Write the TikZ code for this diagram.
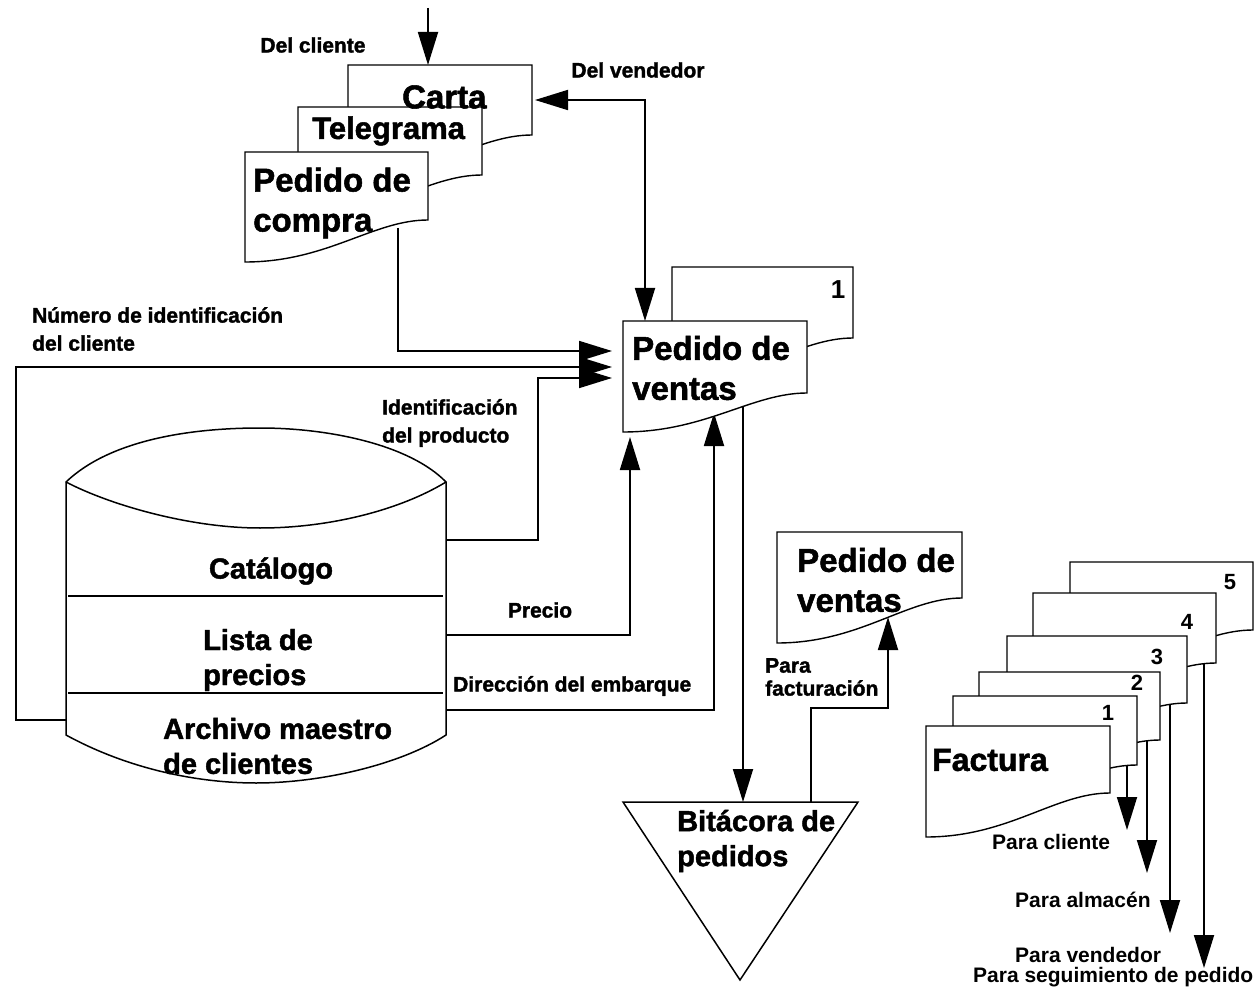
\documentclass[tikz,border=0pt]{standalone}
\usepackage{fontspec}
\setmainfont{Liberation Sans}[BoldFeatures={FakeBold=1.6}]
\newfontfamily\plainfam{Liberation Sans}
\usetikzlibrary{arrows.meta}
\tikzset{
  ln/.style={line width=1.8pt},
  arr/.style={ln, -{Triangle[length=33pt,width=20pt]}},
  darr/.style={ln, {Triangle[length=33pt,width=20pt]}-{Triangle[length=33pt,width=20pt]}},
  docst/.style={draw, line width=1.4pt, fill=white},
  shp/.style={draw, line width=1.5pt},
  small/.style={font=\bfseries\fontsize{21}{28}\selectfont, inner sep=0pt, align=left},
  plain/.style={font=\plainfam\bfseries\fontsize{21}{28}\selectfont, inner sep=0pt, align=left},
  big/.style={font=\bfseries\fontsize{33}{40}\selectfont, inner sep=0pt, align=left},
  mid/.style={font=\bfseries\fontsize{29}{35}\selectfont, inner sep=0pt, align=left},
  num/.style={font=\plainfam\bfseries\fontsize{22}{26}\selectfont, inner sep=0pt},
}
% document shape: L T R y-right y-left
\newcommand\mydoc[5]{%
  \path[docst] (#1,#2) -- (#3,#2) -- (#3,#4)
    .. controls ({#3-0.3*(#3-#1)},#4) and ({#1+0.45*(#3-#1)},#5) .. (#1,#5) -- cycle;}
\begin{document}
\begin{tikzpicture}[x=1pt,y=-1pt]
\useasboundingbox (0,0) rectangle (1259,992);

% ---------- connector end points ----------
\coordinate (top-in) at (428,8);
\coordinate (carta-n) at (428,65);
\coordinate (carta-e) at (535,100);
\coordinate (pv-n) at (645,321);
\coordinate (pc-s) at (398,228);
\coordinate (pv-w1) at (612,351);
\coordinate (pv-w2) at (612,367);
\coordinate (pv-w3) at (612,378);
\coordinate (cyl-w) at (66,720);
\coordinate (cyl-e1) at (446,540);
\coordinate (cyl-e2) at (446,635);
\coordinate (cyl-e3) at (446,710);
\coordinate (pv-s1) at (630,437);
\coordinate (pv-s2) at (714,413);
\coordinate (pv-s3) at (743,400);
\coordinate (bit-n) at (743,802);
\coordinate (bit-n2) at (811,802);
\coordinate (pv2-s) at (888,617);
\coordinate (f1-s) at (1127,760);
\coordinate (f1-t) at (1127,830);
\coordinate (f2-s) at (1147,735);
\coordinate (f2-t) at (1147,873);
\coordinate (f3-s) at (1170,700);
\coordinate (f3-t) at (1170,933);
\coordinate (f4-s) at (1204,660);
\coordinate (f4-t) at (1204,968);

% ---------- connectors ----------
\draw[arr] (top-in) -- (carta-n);
\draw[darr] (carta-e) -| (pv-n);
\draw[arr] (pc-s) |- (pv-w1);
\draw[arr] (cyl-w) -- ++(-50,0) |- (pv-w2);
\draw[arr] (cyl-e1) -- ++(92,0) |- (pv-w3);
\draw[arr] (cyl-e2) -| (pv-s1);
\draw[arr] (cyl-e3) -| (pv-s2);
\draw[arr] (pv-s3) -- (bit-n);
\draw[arr] (bit-n2) -- ++(0,-94) -| (pv2-s);
\draw[arr] (f1-s) -- (f1-t);
\draw[arr] (f2-s) -- (f2-t);
\draw[arr] (f3-s) -- (f3-t);
\draw[arr] (f4-s) -- (f4-t);

% ---------- documents ----------
\mydoc{348}{65}{532}{135}{177}
\mydoc{298}{107}{482}{175}{217}
\mydoc{245}{152}{428}{220}{262}
\mydoc{672}{267}{853}{338}{380}
\mydoc{623}{321}{807}{393}{432}
\mydoc{777}{532}{962}{598}{643}
\mydoc{1070}{562}{1253}{630}{672}
\mydoc{1033}{593}{1216}{663}{705}
\mydoc{1007}{636}{1187}{703}{745}
\mydoc{979}{672}{1160}{740}{782}
\mydoc{953}{696}{1137}{765}{807}
\mydoc{926}{726}{1110}{793}{837}

% ---------- triangle (Bitacora) ----------
\path[shp, line join=miter] (623,802) -- (858,802) -- (740,980) -- cycle;

% ---------- cylinder ----------
\path[shp] (66,482) .. controls (110,440) and (190,428) .. (260,428)
  .. controls (330,428) and (410,445) .. (446,482) -- (446,735)
  .. controls (400,765) and (320,783) .. (256,783)
  .. controls (200,783) and (130,770) .. (66,735) -- cycle;
\path[shp] (66,482) .. controls (110,505) and (190,528) .. (260,528)
  .. controls (330,528) and (400,510) .. (446,482);
\path[shp] (68,596) -- (443,596);
\path[shp] (68,693) -- (443,693);

% ---------- texts ----------
\node[small] (t-delcli) at (313,45) {Del cliente};
\node[small] (t-delven) at (638,70) {Del vendedor};
\node[small, anchor=west] (t-num) at (32,329) {Número de identificación\\del cliente};
\node[small, anchor=west] (t-idp) at (382,423) {Identificación\\del producto};
\node[small] (t-precio) at (540,610) {Precio};
\node[small, anchor=west] (t-dir) at (453,686) {Dirección del embarque};
\node[small, anchor=west, font=\bfseries\fontsize{21}{23}\selectfont] (t-fact) at (765,677) {Para\\facturación};
\node[plain, anchor=west] (t-pcli) at (992,842) {Para cliente};
\node[plain, anchor=west] (t-palm) at (1015,900) {Para almacén};
\node[plain, anchor=west] (t-pven) at (1015,955) {Para vendedor};
\node[plain, anchor=west] (t-pseg) at (973,977) {Para seguimiento de pedido};

\node[big, anchor=west] (t-carta) at (402,97) {Carta};
\node[big, anchor=west, font=\bfseries\fontsize{31}{38}\selectfont] (t-tele) at (312,131) {Telegrama};
\node[big, anchor=west] (t-pc) at (253,203) {Pedido de\\compra};
\node[num, font=\plainfam\bfseries\fontsize{26}{30}\selectfont] (t-n1) at (838,290) {1};
\node[big, anchor=west] (t-pv) at (632,368) {Pedido de\\ventas};
\node[big, anchor=west] (t-pv2) at (797,580) {Pedido de\\ventas};
\node[mid] (t-cat) at (271,571) {Catálogo};
\node[mid, anchor=west] (t-lista) at (203,660) {Lista de\\precios};
\node[mid, anchor=west] (t-arch) at (163,746) {Archivo maestro\\de clientes};
\node[mid, anchor=west] (t-bit) at (677,841) {Bitácora de\\pedidos};
\node[big, anchor=west, font=\bfseries\fontsize{32}{38}\selectfont] (t-fac) at (932,760) {Factura};
\node[num] (t-s5) at (1230,582) {5};
\node[num] (t-s4) at (1187,622) {4};
\node[num] (t-s3) at (1157,657) {3};
\node[num] (t-s2) at (1137,683) {2};
\node[num] (t-s1) at (1108,713) {1};
\end{tikzpicture}
\end{document}
